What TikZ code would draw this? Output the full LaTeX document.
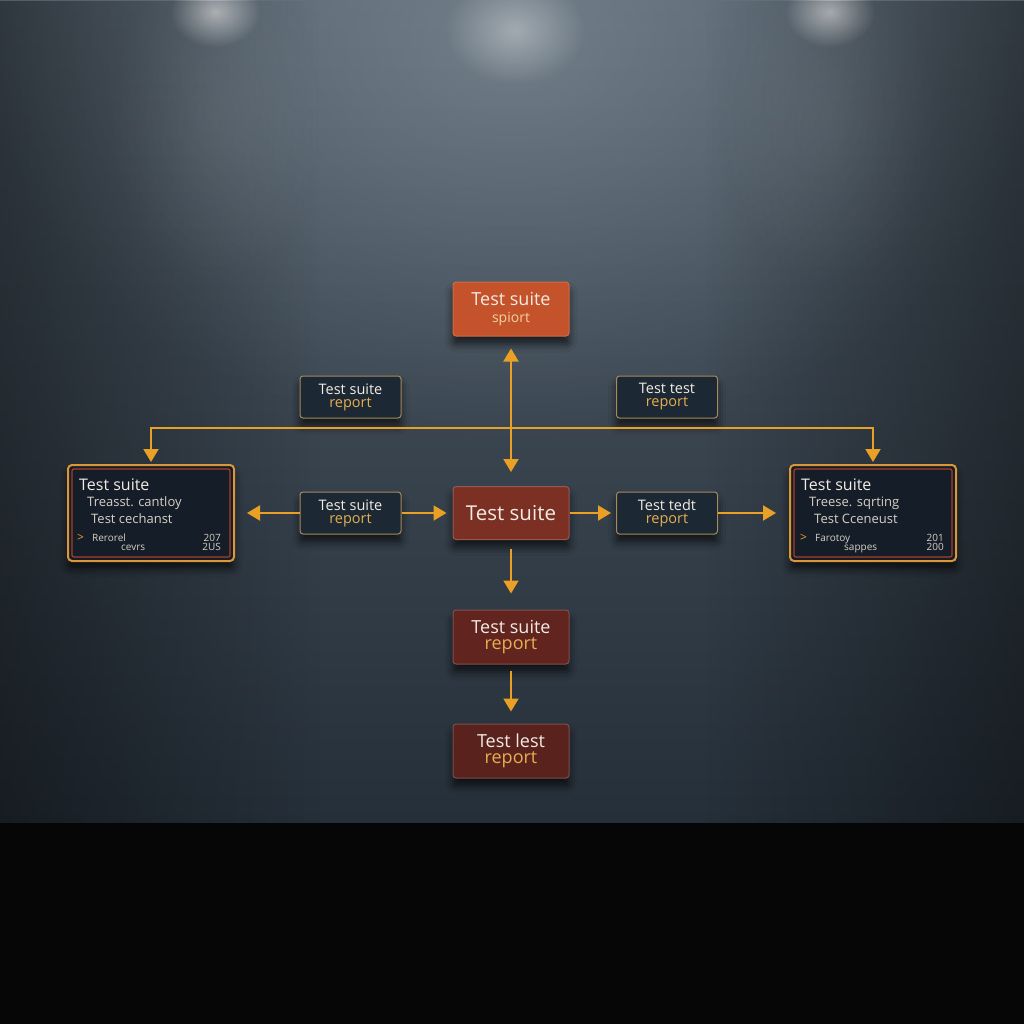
\documentclass[tikz,border=0pt]{standalone}
\usepackage{fontspec}
\setmainfont{Open Sans}
\usetikzlibrary{arrows.meta,shadows.blur,fadings}
\definecolor{wallTop}{HTML}{4F5C68}
\definecolor{wallBot}{HTML}{252F39}
\definecolor{glowc}{HTML}{C4D0D8}
\definecolor{floorc}{HTML}{060606}
\definecolor{amber}{HTML}{E9A024}
\definecolor{smfill}{HTML}{1C2833}
\definecolor{smborder}{HTML}{A8895A}
\definecolor{topfill}{HTML}{C4522A}
\definecolor{cfill}{HTML}{7C3024}
\definecolor{d1fill}{HTML}{62241F}
\definecolor{d2fill}{HTML}{5A221D}
\definecolor{bigfill}{HTML}{151E28}
\definecolor{bigouter}{HTML}{D8983A}
\definecolor{biginner}{HTML}{A83E2A}
\definecolor{txtw}{HTML}{F2ECE4}
\definecolor{txtg}{HTML}{E6AE52}
\definecolor{txtl}{HTML}{D6D0C6}
\tikzfading[name=glowfade, inner color=transparent!0, outer color=transparent!100]
\tikzfading[name=fadeR, left color=transparent!0, right color=transparent!100]
\tikzfading[name=fadeL, left color=transparent!100, right color=transparent!0]
\begin{document}
\begin{tikzpicture}[x=1pt,y=-1pt,
  shade/.style={blur shadow={shadow xshift=0pt, shadow yshift=-8pt, shadow opacity=65, shadow blur radius=8pt}},
  box/.style={shade, rounded corners=3pt, draw, line width=1pt, align=center, inner sep=0pt},
  smallbox/.style={box, fill=smfill, draw=smborder, minimum width=101pt, minimum height=42pt, font=\fontsize{14.5}{13}\selectfont, text=txtw},
  topbox/.style={box, fill=topfill, draw=topfill!85!white, minimum width=116pt, minimum height=54pt, font=\fontsize{18}{17}\selectfont, text=txtw},
  centerbox/.style={box, fill=cfill, draw=cfill!80!white, minimum width=116pt, minimum height=53pt, font=\fontsize{20.5}{20}\selectfont, text=txtw},
  downbox/.style={box, draw=#1!80!white, fill=#1, minimum width=116pt, minimum height=54pt, font=\fontsize{18}{16}\selectfont, text=txtw},
  bigbox/.style={shade, rounded corners=4pt, draw=bigouter, line width=2pt, fill=bigfill, minimum width=166pt, minimum height=96pt},
  innerframe/.style={draw=biginner, line width=1.2pt, rounded corners=2pt},
  ttl/.style={anchor=base west, font=\fontsize{16}{16}\selectfont, text=txtw, inner sep=0pt},
  sub/.style={anchor=base west, font=\fontsize{13}{13}\selectfont, text=txtl, inner sep=0pt},
  tiny/.style={anchor=base west, font=\fontsize{10}{10}\selectfont, text=txtl, inner sep=0pt},
  tinyr/.style={anchor=base east, font=\fontsize{10}{10}\selectfont, text=txtl, inner sep=0pt},
  chev/.style={anchor=base west, font=\fontsize{12}{12}\selectfont, text=amber, inner sep=0pt},
  arr/.style={draw=amber, line width=2pt, -{Triangle[width=15pt,length=13pt]}},
  darr/.style={draw=amber, line width=2pt, {Triangle[width=15pt,length=13pt]}-{Triangle[width=15pt,length=13pt]}}
]
\useasboundingbox (0,0) rectangle (1024,1024);
% wall
\fill[top color=wallTop, bottom color=wallBot] (0,0) rectangle (1024,823);
\fill[glowc, opacity=0.30, path fading=glowfade] (512,40) ellipse (540 and 400);
\fill[white, opacity=0.65, path fading=glowfade] (215,12) ellipse (45 and 35);
\fill[white, opacity=0.35, path fading=glowfade] (515,30) ellipse (70 and 55);
\fill[white, opacity=0.65, path fading=glowfade] (830,12) ellipse (45 and 35);
\fill[glowc, opacity=0.12, path fading=glowfade] (215,120) ellipse (110 and 170);
\fill[glowc, opacity=0.12, path fading=glowfade] (830,120) ellipse (110 and 170);
\fill[black, opacity=0.40, path fading=fadeR] (0,0) rectangle (320,823);
\fill[black, opacity=0.40, path fading=fadeL] (704,0) rectangle (1024,823);
\fill[floorc] (0,823) rectangle (1024,1024);

% nodes
\node[topbox] (T) at (511,309) {Test suite\\{\fontsize{14}{14}\selectfont\color{txtg!55!white}spiort}};
\node[smallbox] (S1) at (350.5,397) {Test suite\\{\color{txtg}report}};
\node[smallbox] (S2) at (667,397) {Test test\\{\color{txtg}report}};
\node[bigbox] (L) at (151,513) {};
\draw[innerframe] ([shift={(5,5)}]L.north west) rectangle ([shift={(-5,-5)}]L.south east);
\node[bigbox] (R) at (873,513) {};
\draw[innerframe] ([shift={(5,5)}]R.north west) rectangle ([shift={(-5,-5)}]R.south east);
\node[smallbox] (A) at (350.5,513) {Test suite\\{\color{txtg}report}};
\node[centerbox] (C) at (511,513) {Test suite};
\node[smallbox] (B) at (667,513) {Test tedt\\{\color{txtg}report}};
\node[downbox=d1fill] (D1) at (511,637) {Test suite\\{\color{txtg}report}};
\node[downbox=d2fill] (D2) at (511,751) {Test lest\\{\color{txtg}report}};

% big box texts, left
\node[ttl] (L1) at (79,490) {Test suite};
\node[sub] (L2) at (87,506) {Treasst. cantloy};
\node[sub] (L3) at (91,523) {Test cechanst};
\node[chev] (L4) at (77,541) {>};
\node[tiny] (L5) at (92,541) {Rerorel};
\node[tiny] (L6) at (121,550) {cevrs};
\node[tinyr] (L7) at (221,541) {207};
\node[tinyr] (L8) at (221,550) {2US};
% big box texts, right
\node[ttl] (R1) at (801,490) {Test suite};
\node[sub] (R2) at (809,506) {Treese. sqrting};
\node[sub] (R3) at (814,523) {Test Cceneust};
\node[chev] (R4) at (800,541) {>};
\node[tiny] (R5) at (815,541) {Farotoy};
\node[tiny] (R6) at (844,550) {sappes};
\node[tinyr] (R7) at (944,541) {201};
\node[tinyr] (R8) at (944,550) {200};

% connectors
\coordinate (J) at (510,428);
\draw[darr] ([yshift=-12pt]T.south) -- ([yshift=14pt]C.north);
\draw[arr] (J) -| ([yshift=2pt]L.north);
\draw[arr] (J) -| ([yshift=2pt]R.north);
\draw[arr] (A.west) -- ([xshift=12pt]L.east);
\draw[arr] (A.east) -- ([xshift=-6pt]C.west);
\draw[arr] (C.east) -- ([xshift=-5pt]B.west);
\draw[arr] (B.east) -- ([xshift=-13pt]R.west);
\draw[arr] ([yshift=-9pt]C.south) -- ([yshift=16pt]D1.north);
\draw[arr] ([yshift=-6pt]D1.south) -- ([yshift=12pt]D2.north);
\end{tikzpicture}
\end{document}
